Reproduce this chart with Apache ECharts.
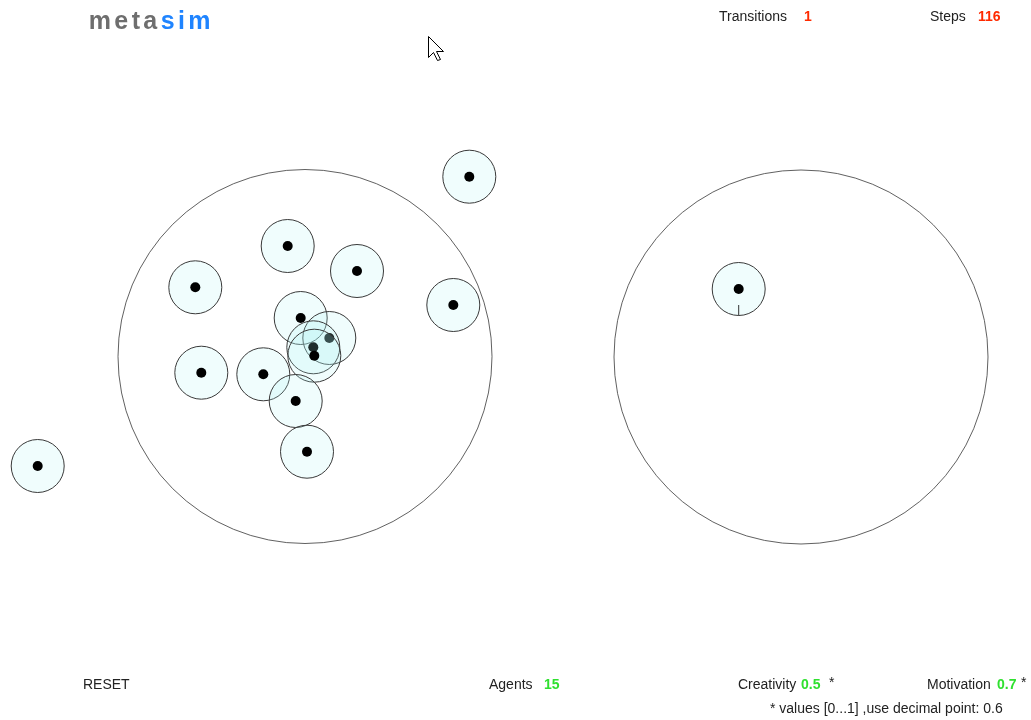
<!DOCTYPE html>
<html>
<head>
<meta charset="utf-8">
<script src="https://cdn.jsdelivr.net/npm/echarts@6/dist/echarts.min.js"></script>
<style>
  html, body { margin: 0; padding: 0; background: #fff; }
  #chart { width: 1031px; height: 720px; }
</style>
</head>
<body>
<div id="chart"></div>
<script>
// --- world (pixel units of the sim canvas) ---
var regionX = [305, 801];
var regionY = [356.5, 357];

var agentX = [469.3, 287.7, 357, 195.3, 453.3, 300.7, 329.3, 313.3, 314.3, 201.3, 263.3, 295.7, 307, 37.7, 738.7];
var agentY = [176.7, 246, 271, 287.3, 305, 318, 338, 347.3, 355.7, 372.7, 374.3, 401, 451.7, 466, 289];
// heading in degrees (screen, 90 = down); null = no heading drawn
var agentHeading = [null, null, null, null, null, null, null, null, null, null, null, null, null, null, 90];

var statLabels = ['Transitions', 'Steps'];
var statValues = ['1', '116'];
var paramLabels = ['Agents', 'Creativity', 'Motivation'];
var paramValues = ['15', '0.5', '0.7'];
var footnote = '* values [0...1] ,use decimal point: 0.6';
var logoLetters = ['m', 'e', 't', 'a', 's', 'i', 'm'];

(function() {
  var ink = '#222';
  var red = '#ff2a00';
  var green = '#2fe02f';
  var font = 'Liberation Sans, Arial, sans-serif';

  var agents = agentX.map(function(x, i) { return [x, agentY[i]]; });
  var regions = regionX.map(function(x, i) { return [x, regionY[i]]; });

  // logo: rich text, one fragment per letter for the spaced look
  var logoRich = {};
  var logoText = logoLetters.map(function(ch, i) {
    logoRich['l' + i] = {
      fontSize: 25, fontFamily: font, color: i < 4 ? '#6e6e6e' : '#1f84ff',
      padding: [0, 1.7, 0, 1.7]
    };
    return '{l' + i + '|' + ch + '}';
  }).join('');

  function label(text, left, top, color, weight) {
    return {
      text: text, left: left, top: top, padding: 0, itemGap: 0,
      textStyle: { fontSize: 14, fontFamily: font, color: color || ink, fontWeight: weight || 'normal', lineHeight: 16 }
    };
  }

  var titles = [
    { text: logoText, left: 87, top: 10, padding: 0, textStyle: { rich: logoRich } },
    label(statLabels[0], 719, 9), label(statValues[0], 804, 9, red, 'bold'),
    label(statLabels[1], 930, 9), label(statValues[1], 978, 9, red, 'bold'),
    label('RESET', 83, 677),
    label(paramLabels[0], 489, 677), label(paramValues[0], 544, 677, green, 'bold'),
    label(paramLabels[1], 738, 677), label(paramValues[1], 801, 677, green, 'bold'), label('*', 829, 675),
    label(paramLabels[2], 927, 677), label(paramValues[2], 997, 677, green, 'bold'), label('*', 1021, 675),
    label(footnote, 770, 701)
  ];

  var chart = echarts.init(document.getElementById('chart'), null, { renderer: 'canvas' });
  chart.setOption({
    animation: false,
    backgroundColor: '#fff',
    title: titles,
    grid: { left: 0, right: 0, top: 0, bottom: 0 },
    xAxis: { type: 'value', min: 0, max: 1031, show: false },
    yAxis: { type: 'value', min: 0, max: 720, inverse: true, show: false },
    series: [
      {
        type: 'scatter',
        data: regions,
        symbol: 'circle',
        symbolSize: 374,
        silent: true,
        itemStyle: { color: 'rgba(0,0,0,0)', borderColor: '#3a3a3a', borderWidth: 1 },
        z: 1
      },
      {
        type: 'custom',
        data: agents,
        clip: false,
        z: 2,
        renderItem: function(params, api) {
          var p = api.coord([api.value(0), api.value(1)]);
          var kids = [
            { type: 'circle', shape: { cx: p[0], cy: p[1], r: 26.5 },
              style: { fill: 'rgba(170,245,245,0.18)', stroke: '#3a3a3a', lineWidth: 1 } },
            { type: 'circle', shape: { cx: p[0], cy: p[1], r: 5 },
              style: { fill: '#000' } }
          ];
          var h = agentHeading[params.dataIndex];
          if (h !== null) {
            var a = h * Math.PI / 180;
            kids.push({ type: 'line',
              shape: { x1: p[0] + Math.cos(a) * 16, y1: p[1] + Math.sin(a) * 16,
                       x2: p[0] + Math.cos(a) * 26.5, y2: p[1] + Math.sin(a) * 26.5 },
              style: { stroke: '#333', lineWidth: 1 } });
          }
          return { type: 'group', children: kids };
        }
      }
    ],
    graphic: [
      {
        type: 'polygon', left: 428, top: 36, z: 100,
        shape: { points: [[0, 0], [0, 21], [5, 16], [9, 24], [12, 23], [8, 15], [15, 15]] },
        style: { fill: '#fff', stroke: '#000', lineWidth: 1 }
      }
    ]
  });
  window.addEventListener('resize', function() { chart.resize(); });
})();
</script>
</body>
</html>
